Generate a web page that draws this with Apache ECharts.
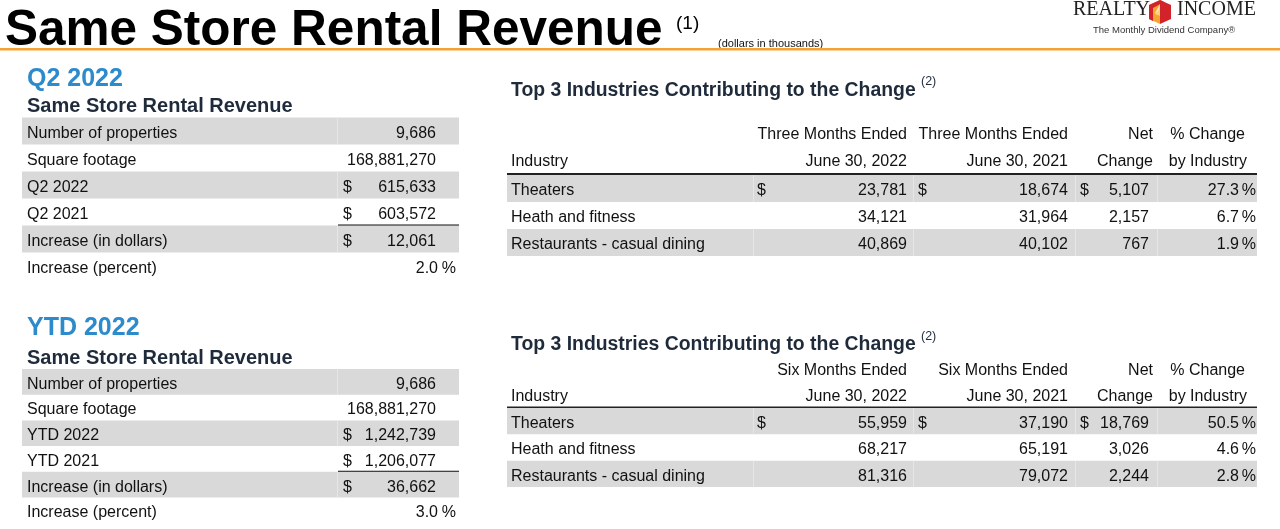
<!DOCTYPE html>
<html>
<head>
<meta charset="utf-8">
<script src="https://cdn.jsdelivr.net/npm/echarts@6/dist/echarts.min.js"></script>
<style>
html,body{margin:0;padding:0;background:#fff;}
#main{width:1280px;height:529px;}
</style>
</head>
<body>
<div id="main"></div>
<script>
// ---------------- DATA ----------------
const q2Labels = ['Number of properties', 'Square footage', 'Q2 2022', 'Q2 2021', 'Increase (in dollars)', 'Increase (percent)'];
const q2Values = [9686, 168881270, 615633, 603572, 12061, 2.0];
const ytdLabels = ['Number of properties', 'Square footage', 'YTD 2022', 'YTD 2021', 'Increase (in dollars)', 'Increase (percent)'];
const ytdValues = [9686, 168881270, 1242739, 1206077, 36662, 3.0];
const leftDollarRows = [false, false, true, true, true, false];
const leftPctRow = 5;
const leftUnderlineRow = 3;

const industries = ['Theaters', 'Heath and fitness', 'Restaurants - casual dining'];
const q2Current = [23781, 34121, 40869];
const q2Prior = [18674, 31964, 40102];
const q2Net = [5107, 2157, 767];
const q2Pct = [27.3, 6.7, 1.9];
const ytdCurrent = [55959, 68217, 81316];
const ytdPrior = [37190, 65191, 79072];
const ytdNet = [18769, 3026, 2244];
const ytdPct = [50.5, 4.6, 2.8];

const q2HeaderTop = ['Three Months Ended', 'Three Months Ended', 'Net', '% Change'];
const ytdHeaderTop = ['Six Months Ended', 'Six Months Ended', 'Net', '% Change'];
const q2HeaderBottom = ['Industry', 'June 30, 2022', 'June 30, 2021', 'Change', 'by Industry'];
const ytdHeaderBottom = ['Industry', 'June 30, 2022', 'June 30, 2021', 'Change', 'by Industry'];

// ---------------- STYLE / LAYOUT ----------------
const FONT = '"Liberation Sans", Arial, Helvetica, sans-serif';
const SERIF = '"Liberation Serif", "Times New Roman", serif';
const GREY = '#d9d9d9';
const SEP = '#e6e6e6';
const INK = '#111111';
const NAVY = '#1f2b3b';
const BLUE = '#2d8bcc';
const ORANGE = '#f5a235';
const DY = 2; // optical shift for middle-aligned text

function fmt(n) { return n.toLocaleString('en-US'); }

function txt(x, y, s, o) {
  o = o || {};
  return {
    type: 'text', x: x, y: y + DY, silent: true,
    style: {
      text: s, fill: o.fill || INK, fontSize: o.size || 16,
      fontWeight: o.weight || 'normal', fontFamily: o.family || FONT,
      align: o.align || 'left', verticalAlign: o.valign || 'middle'
    }
  };
}

function ctxt(x, y, s, align) {
  return { type: 'text', style: { x: x, y: y, text: s, fill: INK, fontSize: 16, fontFamily: FONT, align: align || 'left', verticalAlign: 'middle' } };
}

function leftRender(labels, values) {
  return function (params, api) {
    const k = api.value(1);
    const c = api.coord([0, k]);
    const h = api.size([0, 1])[1];
    const cs = params.coordSys;
    const x0 = cs.x, w = cs.width;
    const top = c[1] - h / 2;
    const y = c[1] + 0.5 + DY;
    const kids = [];
    if (k % 2 === 0) {
      kids.push({ type: 'rect', shape: { x: x0, y: top, width: w, height: h }, style: { fill: GREY } });
      kids.push({ type: 'rect', shape: { x: x0 + 315, y: top, width: 1, height: h }, style: { fill: SEP } });
    }
    kids.push(ctxt(x0 + 5, y, labels[k]));
    if (k === leftPctRow) {
      kids.push(ctxt(x0 + 416, y, values[k].toFixed(1), 'right'));
      kids.push(ctxt(x0 + 434, y, '%', 'right'));
    } else {
      if (leftDollarRows[k]) kids.push(ctxt(x0 + 321, y, '$'));
      kids.push(ctxt(x0 + 414, y, fmt(values[k]), 'right'));
    }
    if (k === leftUnderlineRow) {
      kids.push({ type: 'rect', shape: { x: x0 + 316, y: top + h - 1, width: w - 316, height: 1.6 }, style: { fill: INK } });
    }
    return { type: 'group', children: kids };
  };
}

function rightRender(cur, prior, net, pct) {
  return function (params, api) {
    const k = api.value(1);
    const c = api.coord([0, k]);
    const h = api.size([0, 1])[1];
    const cs = params.coordSys;
    const x0 = cs.x, w = cs.width;
    const top = c[1] - h / 2;
    const y = c[1] + 0.5 + DY;
    const kids = [];
    if (k % 2 === 0) {
      kids.push({ type: 'rect', shape: { x: x0, y: top, width: w, height: h }, style: { fill: GREY } });
      [246, 406, 568, 650].forEach(function (dx) {
        kids.push({ type: 'rect', shape: { x: x0 + dx, y: top, width: 1, height: h }, style: { fill: SEP } });
      });
    }
    kids.push(ctxt(x0 + 4, y, industries[k]));
    if (k === 0) {
      kids.push(ctxt(x0 + 250, y, '$'));
      kids.push(ctxt(x0 + 411, y, '$'));
      kids.push(ctxt(x0 + 573, y, '$'));
    }
    kids.push(ctxt(x0 + 400, y, fmt(cur[k]), 'right'));
    kids.push(ctxt(x0 + 561, y, fmt(prior[k]), 'right'));
    kids.push(ctxt(x0 + 642, y, fmt(net[k]), 'right'));
    kids.push(ctxt(x0 + 732, y, pct[k].toFixed(1), 'right'));
    kids.push(ctxt(x0 + 749, y, '%', 'right'));
    return { type: 'group', children: kids };
  };
}

// ---------------- GRIDS (one per table) ----------------
const grids = [
  { left: 22, top: 117.5, width: 437, height: 162 },
  { left: 22, top: 369, width: 437, height: 154.2 },
  { left: 507, top: 175, width: 750, height: 81 },
  { left: 507, top: 408, width: 750, height: 79 }
];
const rowSets = [q2Labels, ytdLabels, industries, industries];

const xAxes = grids.map(function (_, i) { return { gridIndex: i, type: 'value', min: 0, max: 1, show: false }; });
const yAxes = grids.map(function (_, i) { return { gridIndex: i, type: 'category', data: rowSets[i], inverse: true, show: false }; });

const series = [
  { type: 'custom', xAxisIndex: 0, yAxisIndex: 0, renderItem: leftRender(q2Labels, q2Values), data: q2Labels.map(function (_, k) { return [0, k]; }) },
  { type: 'custom', xAxisIndex: 1, yAxisIndex: 1, renderItem: leftRender(ytdLabels, ytdValues), data: ytdLabels.map(function (_, k) { return [0, k]; }) },
  { type: 'custom', xAxisIndex: 2, yAxisIndex: 2, renderItem: rightRender(q2Current, q2Prior, q2Net, q2Pct), data: industries.map(function (_, k) { return [0, k]; }) },
  { type: 'custom', xAxisIndex: 3, yAxisIndex: 3, renderItem: rightRender(ytdCurrent, ytdPrior, ytdNet, ytdPct), data: industries.map(function (_, k) { return [0, k]; }) }
];
series.forEach(function (s) { s.silent = true; s.animation = false; });

// ---------------- STATIC TEXT / HEADERS ----------------
function headerBlock(top, bottom, yTop, yBottom, yLine) {
  const rightX = [907, 1068, 1153, 1245];
  const rightX2 = [907, 1068, 1153, 1247];
  const out = [];
  top.forEach(function (s, i) { out.push(txt(rightX[i], yTop, s, { align: 'right' })); });
  out.push(txt(511, yBottom, bottom[0]));
  bottom.slice(1).forEach(function (s, i) { out.push(txt(rightX2[i], yBottom, s, { align: 'right' })); });
  out.push({ type: 'rect', silent: true, shape: { x: 507, y: yLine, width: 750, height: 2 }, style: { fill: '#222' } });
  return out;
}

const graphics = [
  txt(5, 29, 'Same Store Rental Revenue', { size: 49.5, weight: 'bold', fill: '#000' }),
  txt(676, 22, '(1)', { size: 19, fill: '#000' }),
  txt(718, 42, '(dollars in thousands)', { size: 11, fill: '#111' }),
  { type: 'rect', silent: true, shape: { x: 0, y: 48, width: 1280, height: 2.5 }, style: { fill: ORANGE } },
  // logo
  txt(1073, 8, 'REALTY', { size: 20, family: SERIF, fill: '#222' }),
  txt(1177, 8, 'INCOME', { size: 20, family: SERIF, fill: '#222' }),
  { type: 'polygon', silent: true, shape: { points: [[1160, 0], [1171, 5], [1171, 19], [1160, 24], [1160, 0]] }, style: { fill: '#d2232a' } },
  { type: 'polygon', silent: true, shape: { points: [[1160, 0], [1149, 5], [1149, 19], [1160, 24]] }, style: { fill: '#f6a531' } },
  { type: 'polygon', silent: true, shape: { points: [[1149, 5], [1160, 0], [1164, 2], [1153, 8], [1153, 21], [1149, 19]] }, style: { fill: '#d2232a' } },
  { type: 'polygon', silent: true, shape: { points: [[1155, 13], [1160, 4], [1159, 13]] }, style: { fill: '#fde7b0' } },
  { type: 'polygon', silent: true, shape: { points: [[1155, 14], [1160, 9], [1160, 16]] }, style: { fill: '#fbd27a' } },
  txt(1093, 28, 'The Monthly Dividend Company\u00AE', { size: 9.5, fill: '#333' }),
  // left section titles
  txt(27, 77, 'Q2 2022', { size: 25, weight: 'bold', fill: BLUE }),
  txt(27, 104, 'Same Store Rental Revenue', { size: 20, weight: 'bold', fill: NAVY }),
  txt(27, 326, 'YTD 2022', { size: 25, weight: 'bold', fill: BLUE }),
  txt(27, 356, 'Same Store Rental Revenue', { size: 20, weight: 'bold', fill: NAVY }),
  // right section titles
  txt(511, 89, 'Top 3 Industries Contributing to the Change', { size: 19.4, weight: 'bold', fill: NAVY }),
  txt(921, 80, '(2)', { size: 12.5, fill: NAVY }),
  txt(511, 343, 'Top 3 Industries Contributing to the Change', { size: 19.4, weight: 'bold', fill: NAVY }),
  txt(921, 335, '(2)', { size: 12.5, fill: NAVY })
].concat(headerBlock(q2HeaderTop, q2HeaderBottom, 133, 160, 173))
 .concat(headerBlock(ytdHeaderTop, ytdHeaderBottom, 369, 395, 406.5));

const chart = echarts.init(document.getElementById('main'), null, { renderer: 'canvas' });
chart.setOption({
  backgroundColor: '#ffffff',
  animation: false,
  grid: grids,
  xAxis: xAxes,
  yAxis: yAxes,
  series: series,
  graphic: { elements: graphics }
});
</script>
</body>
</html>
